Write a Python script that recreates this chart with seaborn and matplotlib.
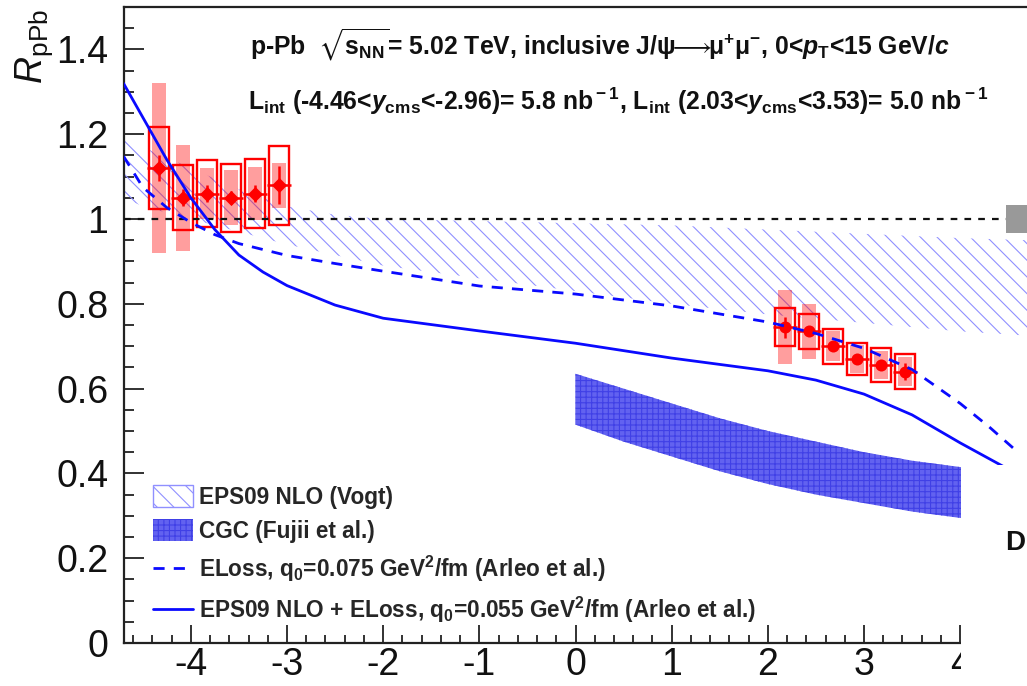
import numpy as np
import pandas as pd
import matplotlib
matplotlib.use("Agg")
import matplotlib.pyplot as plt
from matplotlib.patches import Rectangle, Patch
from matplotlib.lines import Line2D
from matplotlib.ticker import MultipleLocator, FuncFormatter
import seaborn as sns

# ---------------- data ----------------
# backward rapidity (Pb-going direction)
y_bwd = [-4.335, -4.085, -3.835, -3.585, -3.335, -3.085]
r_bwd = [1.12, 1.05, 1.06, 1.05, 1.06, 1.08]
stat_bwd = [0.03, 0.02, 0.02, 0.015, 0.02, 0.045]
syst_unc_bwd = [0.097, 0.077, 0.08, 0.08, 0.082, 0.093]
syst_cor_bwd = [0.20, 0.125, 0.06, 0.065, 0.063, 0.053]

# forward rapidity (p-going direction)
y_fwd = [2.18, 2.43, 2.68, 2.93, 3.18, 3.43]
r_fwd = [0.745, 0.735, 0.70, 0.67, 0.655, 0.64]
stat_fwd = [0.025, 0.012, 0.012, 0.012, 0.012, 0.02]
syst_unc_fwd = [0.045, 0.042, 0.041, 0.038, 0.04, 0.041]
syst_cor_fwd = [0.087, 0.065, 0.035, 0.033, 0.033, 0.035]

global_unc = 0.034

# EPS09 NLO (Vogt) band
eps_y = [-4.7, -4.5, -4.0, -3.5, -3.0, -2.5, -2.0, -1.0, 0.0, 1.0, 2.0, 3.0, 4.0, 4.7]
eps_hi = [1.20, 1.17, 1.12, 1.07, 1.03, 1.01, 1.00, 0.995, 0.99, 0.985, 0.975, 0.965, 0.955, 0.95]
eps_lo = [1.05, 1.03, 1.00, 0.97, 0.94, 0.915, 0.89, 0.86, 0.83, 0.80, 0.775, 0.755, 0.735, 0.725]

# CGC (Fujii et al.) band
cgc_y = [0.0, 0.5, 1.0, 1.5, 2.0, 2.5, 3.0, 3.5, 4.0, 4.3]
cgc_hi = [0.635, 0.60, 0.565, 0.53, 0.50, 0.475, 0.45, 0.43, 0.415, 0.405]
cgc_lo = [0.515, 0.475, 0.44, 0.405, 0.375, 0.35, 0.33, 0.31, 0.295, 0.285]

# ELoss, q0 = 0.075 GeV^2/fm (Arleo et al.)
eloss_y = [-4.7, -4.5, -4.25, -4.0, -3.75, -3.5, -3.0, -2.5, -2.0, -1.0, 0.0,
           1.0, 2.0, 2.5, 3.0, 3.5, 4.0, 4.3, 4.6]
eloss_r = [1.148, 1.075, 1.027, 0.992, 0.963, 0.942, 0.914, 0.895, 0.877, 0.842, 0.823,
           0.795, 0.757, 0.73, 0.695, 0.645, 0.565, 0.51, 0.45]

# EPS09 NLO + ELoss, q0 = 0.055 GeV^2/fm (Arleo et al.)
comb_y = [-4.7, -4.5, -4.25, -4.0, -3.75, -3.5, -3.25, -3.0, -2.5, -2.0, -1.0, 0.0,
          1.0, 2.0, 2.5, 3.0, 3.5, 4.0, 4.5]
comb_r = [1.32, 1.24, 1.14, 1.05, 0.975, 0.915, 0.875, 0.843, 0.797, 0.766, 0.736, 0.707,
          0.672, 0.642, 0.62, 0.587, 0.538, 0.472, 0.41]

y_ticks = [0, 0.2, 0.4, 0.6, 0.8, 1.0, 1.2, 1.4]
x_ticks = [-4, -3, -2, -1, 0, 1, 2, 3, 4]

# ---------------- style ----------------
sns.set_theme(style="ticks")
plt.rcParams.update({
    "font.family": ["Liberation Sans", "DejaVu Sans"],
    "axes.unicode_minus": False,
    "mathtext.fontset": "custom",
    "mathtext.rm": "Liberation Sans:bold",
    "mathtext.it": "Liberation Sans:bold:italic",
    "mathtext.bf": "Liberation Sans:bold",
    "mathtext.sf": "Liberation Sans",
    "mathtext.cal": "Liberation Sans:italic",
    "mathtext.fallback": "stix",
    "hatch.linewidth": 0.8,
})

W, H = 1027, 686
fig = plt.figure(figsize=(W / 100, H / 100), dpi=100)
fig.patch.set_facecolor("white")
ax = fig.add_axes([123.5 / W, 1 - 643 / H, 904 / W, 636 / H])
ax.set_facecolor("white")

RED = "#ff0000"
PINK = (1.0, 0.0, 0.0, 0.38)
BLUE = "#0a0aff"
HATCH_BLUE = "#9090ff"
CGC_FACE = "#6262f0"
CGC_HATCH = "#4040e6"

# EPS09 hatched band
ax.fill_between(eps_y, eps_lo, eps_hi, facecolor="none", edgecolor=HATCH_BLUE,
                hatch="\\\\", linewidth=0, zorder=1)
# CGC band
ax.fill_between(cgc_y, cgc_lo, cgc_hi, facecolor=CGC_FACE, edgecolor=CGC_HATCH,
                hatch="+++", linewidth=0, zorder=1)

def draw_data(yc, r, stat, s_unc, s_cor, marker, msize):
    yc = np.asarray(yc); r = np.asarray(r)
    s_unc = np.asarray(s_unc); s_cor = np.asarray(s_cor)
    # partially correlated systematics: filled boxes
    ax.bar(yc, 2 * s_cor, bottom=r - s_cor, width=0.145, color=PINK,
           linewidth=0, zorder=2)
    # uncorrelated systematics: open boxes
    ax.bar(yc, 2 * s_unc, bottom=r - s_unc, width=0.21, fill=False,
           edgecolor=RED, linewidth=1.7, zorder=3)
    ax.errorbar(yc, r, yerr=stat, xerr=0.125, fmt="none", ecolor=RED,
                elinewidth=1.8, capsize=0, zorder=4)
    sns.scatterplot(x=yc, y=r, marker=marker, s=msize, color=RED,
                    edgecolor=RED, linewidth=0, ax=ax, zorder=5, legend=False)

draw_data(y_bwd, r_bwd, stat_bwd, syst_unc_bwd, syst_cor_bwd, "D", 60)
draw_data(y_fwd, r_fwd, stat_fwd, syst_unc_fwd, syst_cor_fwd, "o", 75)

# unity reference and global uncertainty box
ax.plot([-4.7, 4.48], [1, 1], color="#111111", lw=1.6,
        linestyle=(0, (3, 3.2)), zorder=6)
ax.bar([4.59], [2 * global_unc], bottom=1 - global_unc, width=0.22,
       color="#999999", linewidth=0, zorder=6)

# model curves
df_eloss = pd.DataFrame({"y": eloss_y, "r": eloss_r})
df_comb = pd.DataFrame({"y": comb_y, "r": comb_r})
sns.lineplot(data=df_eloss, x="y", y="r", color=BLUE, lw=2.0,
             linestyle=(0, (4, 3.3)), ax=ax, zorder=7)
sns.lineplot(data=df_comb, x="y", y="r", color=BLUE, lw=2.0, ax=ax, zorder=7)

# ---------------- axes ----------------
ax.set_xlim(-4.7, 4.7)
ax.set_ylim(0, 1.5)
ax.set_xlabel("")
ax.set_ylabel("")
ax.set_xticks(x_ticks)
ax.set_yticks(y_ticks)
ax.xaxis.set_minor_locator(MultipleLocator(0.2))
ax.yaxis.set_minor_locator(MultipleLocator(0.05))
ax.yaxis.set_major_formatter(FuncFormatter(lambda v, p: f"{v:g}"))
ax.xaxis.set_major_formatter(FuncFormatter(lambda v, p: f"{v:g}"))
ax.tick_params(axis="both", which="both", direction="in", colors="#222222",
               width=1.3, labelsize=27, labelcolor="#111111")
ax.tick_params(axis="y", which="major", length=14.5, pad=11)
ax.tick_params(axis="y", which="minor", length=7)
ax.tick_params(axis="x", which="major", length=13, pad=3)
ax.tick_params(axis="x", which="minor", length=6)
ax.tick_params(top=False, right=False, which="both")
for side in ["left", "bottom", "top"]:
    ax.spines[side].set_color("#222222")
    ax.spines[side].set_linewidth(1.6)
ax.spines["right"].set_visible(False)

# legend
handles = [
    Patch(facecolor="white", edgecolor=HATCH_BLUE, hatch="\\\\", linewidth=1.0),
    Patch(facecolor=CGC_FACE, edgecolor=CGC_HATCH, hatch="+++", linewidth=0),
    Line2D([], [], color=BLUE, lw=2.0, linestyle=(0, (4, 3.3))),
    Line2D([], [], color=BLUE, lw=2.0),
]
labels = [
    "EPS09 NLO (Vogt)",
    "CGC (Fujii et al.)",
    r"ELoss, q$_{\rm 0}$=0.075 GeV$^{\rm 2}$/fm (Arleo et al.)",
    r"EPS09 NLO + ELoss, q$_{\rm 0}$=0.055 GeV$^{\rm 2}$/fm (Arleo et al.)",
]
leg = ax.legend(handles, labels, loc="upper left",
                bbox_to_anchor=(153 / W, 1 - 485 / H), bbox_transform=fig.transFigure,
                frameon=False, borderpad=0, borderaxespad=0, handlelength=1.75,
                handleheight=1.1, handletextpad=0.28, labelspacing=0.48,
                prop={"family": "Liberation Sans", "weight": "bold", "size": 16.3})
leg.set_zorder(8)

# header text
fig.text(250 / W, 1 - 55 / H,
         r"p-Pb  $\sqrt{\mathrm{s}_{\rm NN}}$= 5.02 TeV, inclusive J/ψ$\!\!\longrightarrow\!\!$μ$^{+}$μ$^{-}$, 0<$p_{\rm T}$<15 GeV/$c$",
         fontsize=17.8, fontweight="bold", color="#111111", va="baseline", ha="left")
fig.text(248 / W, 1 - 110 / H,
         r"L$_{\rm int}$ (-4.46<$y_{\rm cms}$<-2.96)= 5.8 nb$^{\rm -1}$, L$_{\rm int}$ (2.03<$y_{\rm cms}$<3.53)= 5.0 nb$^{\rm -1}$",
         fontsize=17.8, fontweight="bold", color="#111111", va="baseline", ha="left")

# y-axis title
fig.text(34 / W, 1 - 84 / H, r"$\mathcal{R}_{\mathsf{pPb}}$", rotation=90,
         ha="center", va="bottom", fontsize=27, color="#111111")

# overlapping panel in the lower right corner
fig.add_artist(Rectangle((961 / W, 0), (W - 961) / W, (H - 465) / H,
                         transform=fig.transFigure, facecolor="white",
                         edgecolor="none", zorder=20))
fig.text(1005 / W, 1 - 543 / H, "D", fontsize=20, fontweight="bold",
         ha="left", va="center", color="#111111", zorder=21)

fig.savefig("out.png", dpi=100, facecolor="white")
